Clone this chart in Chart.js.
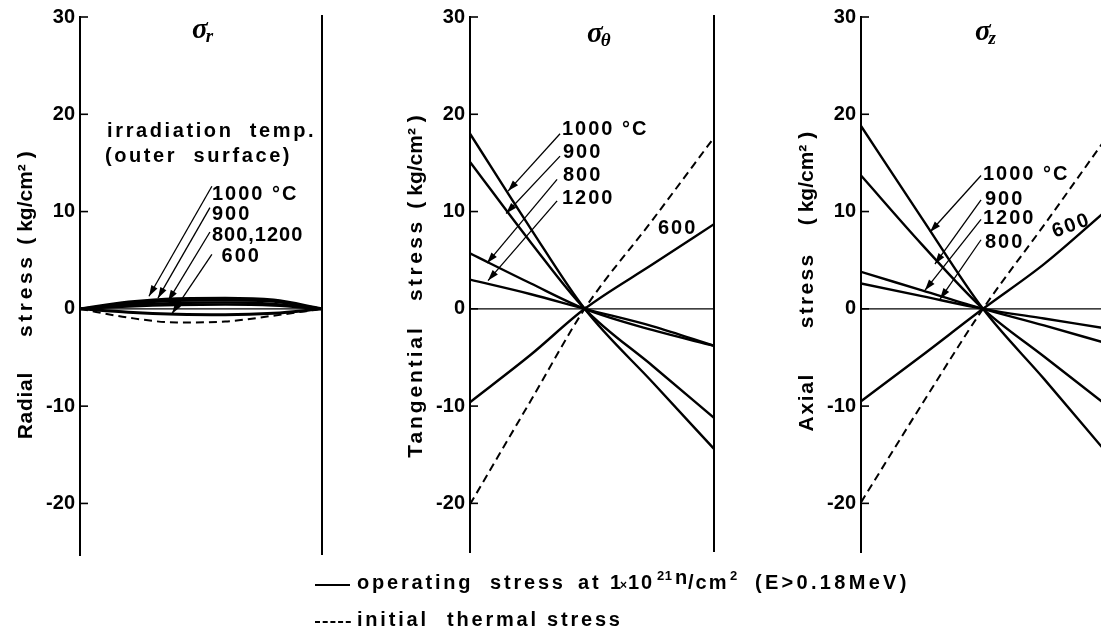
<!DOCTYPE html>
<html>
<head>
<meta charset="utf-8">
<script src="https://cdn.jsdelivr.net/npm/chart.js@4.4.0/dist/chart.umd.min.js"></script>
<style>
  html, body { margin: 0; padding: 0; background: #fff; }
  body { width: 1101px; height: 634px; overflow: hidden; position: relative; }
  canvas { position: absolute; top: 0; }
  #legend { position: absolute; left: 0; top: 560px; }
  #legend text { font-family: "Liberation Sans", Arial, sans-serif; font-weight: bold; font-size: 20px; letter-spacing: 2.8px; fill: #000; }
</style>
</head>
<body>
<canvas id="radial" width="340" height="634" style="left:0"></canvas>
<canvas id="tangential" width="350" height="634" style="left:380px"></canvas>
<canvas id="axial" width="400" height="634" style="left:760px"></canvas>
<svg id="legend" width="1101" height="74">
  <line x1="315" y1="25" x2="350" y2="25" stroke="#000" stroke-width="2"/>
  <line x1="315" y1="62" x2="351" y2="62" stroke="#000" stroke-width="2" stroke-dasharray="5 2.7"/>
  <text y="29"><tspan x="357">operating</tspan><tspan x="490">stress</tspan><tspan x="578">at</tspan><tspan x="610">1</tspan><tspan x="620" font-size="12">×</tspan><tspan x="628" letter-spacing="2">10</tspan><tspan x="657" dy="-9" font-size="13" letter-spacing="0.5">21</tspan><tspan x="675" dy="4">n</tspan><tspan x="688" dy="5" letter-spacing="2">/cm</tspan><tspan x="730" dy="-9" font-size="13">2</tspan><tspan x="755" dy="9" letter-spacing="3.3">(E&gt;0.18MeV)</tspan></text>
  <text y="66"><tspan x="357">initial</tspan><tspan x="447">thermal</tspan><tspan x="547">stress</tspan></text>
</svg>
<script>
const FONT = '"Liberation Sans", Arial, sans-serif';

// position across the wall, 0 = inner surface, 1 = outer surface
// radial stress (kg/cm2)
const radialX = [0, 0.2, 0.4, 0.6, 0.8, 1];
const radial1000 = [0, 0.7, 1.05, 1.1, 0.9, 0];
const radial900 = [0, 0.55, 0.85, 0.9, 0.75, 0];
const radial800 = [0, 0.4, 0.6, 0.65, 0.5, 0];
const radial1200 = [0, 0.25, 0.4, 0.45, 0.35, 0];
const radial600 = [0, -0.35, -0.55, -0.6, -0.45, 0];
const radialThermal = [0, -0.9, -1.4, -1.3, -0.7, 0];

// tangential stress (kg/cm2)
const tangX = [0, 0.25, 0.47, 0.75, 1];
const tang1000 = [18.0, 8.2, 0, -7.6, -14.4];
const tang900 = [15.1, 6.8, 0, -5.9, -11.2];
const tang800 = [5.7, 2.6, 0, -2.2, -3.8];
const tang1200 = [3.0, 1.5, 0, -1.8, -3.8];
const tang600 = [-9.6, -4.7, 0, 4.6, 8.7];
const tangThermal = [-20.1, -9.4, 0, 9.2, 17.6];

// axial stress (kg/cm2)
const axialX = [0, 0.25, 0.5, 0.75, 1];
const axial1000 = [18.8, 9.3, 0, -7.2, -14.6];
const axial900 = [13.7, 6.6, 0, -4.9, -9.8];
const axial1200 = [3.8, 1.9, 0, -1.7, -3.5];
const axial800 = [2.6, 1.3, 0, -1.0, -2.0];
const axial600 = [-9.5, -4.8, 0, 4.6, 10.0];
const axialThermal = [-19.9, -9.8, 0, 8.6, 17.4];

const yTicks = [-20, -10, 0, 10, 20, 30];

function pts(xs, ys) {
    return xs.map((x, i) => ({ x: x, y: ys[i] }));
}

function solid(xs, ys, width) {
    return {
        data: pts(xs, ys),
        borderColor: '#000',
        borderWidth: width || 2.4,
        pointRadius: 0,
        fill: false,
        cubicInterpolationMode: 'monotone'
    };
}

function dashed(xs, ys) {
    const d = solid(xs, ys, 2);
    d.borderDash = [8, 5];
    return d;
}

function arrow(ctx, x1, y1, x2, y2) {
    ctx.beginPath();
    ctx.moveTo(x1, y1);
    ctx.lineTo(x2, y2);
    ctx.stroke();
    const a = Math.atan2(y2 - y1, x2 - x1);
    const L = 11, W = 3.5;
    ctx.beginPath();
    ctx.moveTo(x2, y2);
    ctx.lineTo(x2 - L * Math.cos(a) + W * Math.sin(a), y2 - L * Math.sin(a) - W * Math.cos(a));
    ctx.lineTo(x2 - L * Math.cos(a) - W * Math.sin(a), y2 - L * Math.sin(a) + W * Math.cos(a));
    ctx.closePath();
    ctx.fill();
}

// text, marks and arrows that sit on top of each panel
function decor(cfg) {
    return {
        id: 'decor',
        beforeDatasetsDraw(chart) {
            const { ctx, chartArea: area, scales: { y } } = chart;
            ctx.save();
            ctx.strokeStyle = '#000';
            ctx.lineWidth = 1.2;
            const y0 = y.getPixelForValue(0);
            ctx.beginPath();
            ctx.moveTo(area.left, y0);
            ctx.lineTo(area.right, y0);
            ctx.stroke();
            // ticks point into the plot
            ctx.lineWidth = 1.6;
            yTicks.forEach(v => {
                const py = y.getPixelForValue(v);
                ctx.beginPath();
                ctx.moveTo(area.left, py);
                ctx.lineTo(area.left + 8, py);
                ctx.stroke();
            });
            // outer wall
            ctx.lineWidth = 2;
            ctx.beginPath();
            ctx.moveTo(area.right, area.top - 2);
            ctx.lineTo(area.right, area.bottom);
            ctx.stroke();
            ctx.restore();
        },
        afterDatasetsDraw(chart) {
            const { ctx, chartArea: area, scales: { x, y } } = chart;
            ctx.save();
            ctx.fillStyle = '#000';
            ctx.strokeStyle = '#000';
            ctx.textBaseline = 'alphabetic';
            ctx.textAlign = 'left';

            // panel symbol
            const sx = x.getPixelForValue(cfg.symbol[1]);
            const sy = y.getPixelForValue(cfg.symbol[2]);
            ctx.font = 'italic bold 29px "Liberation Serif", serif';
            ctx.fillText('σ', sx, sy);
            const sw = ctx.measureText('σ').width;
            ctx.font = 'italic bold 19px "Liberation Serif", serif';
            ctx.fillText(cfg.symbol[0], sx + sw - 2, sy + 4);

            // annotation labels
            cfg.labels.forEach(l => {
                ctx.font = 'bold 20px ' + FONT;
                ctx.letterSpacing = (l[3] || 2) + 'px';
                const px = x.getPixelForValue(l[1]);
                const py = y.getPixelForValue(l[2]);
                if (l[4]) {
                    ctx.save();
                    ctx.translate(px, py);
                    ctx.rotate(l[4]);
                    ctx.textAlign = 'center';
                    ctx.fillText(l[0], 0, 0);
                    ctx.restore();
                } else {
                    ctx.fillText(l[0], px, py);
                }
            });
            ctx.letterSpacing = '0px';

            // arrows from labels to curves
            ctx.lineWidth = 1.3;
            cfg.arrows.forEach(a => {
                arrow(ctx, x.getPixelForValue(a[0]), y.getPixelForValue(a[1]),
                    x.getPixelForValue(a[2]), y.getPixelForValue(a[3]));
            });

            // rotated axis title, word by word
            ctx.font = 'bold 21px ' + FONT;
            const bx = area.left - 48;
            cfg.yTitle.forEach(t => {
                const yb = y.getPixelForValue(t[1]);
                const yt = y.getPixelForValue(t[2]);
                ctx.letterSpacing = '0px';
                const w = ctx.measureText(t[0]).width;
                ctx.letterSpacing = Math.max(0, (yb - yt - w) / t[0].length) + 'px';
                ctx.save();
                ctx.translate(bx, yb);
                ctx.rotate(-Math.PI / 2);
                ctx.fillText(t[0], 0, 0);
                ctx.restore();
            });
            ctx.restore();
        }
    };
}

function makeChart(id, datasets, yMin, axisWidth, padding, cfg) {
    const ctx = document.getElementById(id).getContext('2d');
    return new Chart(ctx, {
        type: 'line',
        data: { datasets: datasets },
        options: {
            responsive: false,
            animation: false,
            events: [],
            layout: { padding: padding },
            plugins: { legend: { display: false }, tooltip: { enabled: false } },
            scales: {
                x: { type: 'linear', min: 0, max: 1, display: false },
                y: {
                    type: 'linear',
                    min: yMin,
                    max: 30,
                    afterBuildTicks: s => { s.ticks = yTicks.map(v => ({ value: v })); },
                    afterFit: s => { s.width = axisWidth; },
                    grid: { display: false, drawTicks: false },
                    border: { display: true, color: '#000', width: 2 },
                    ticks: { color: '#000', padding: 5, font: { family: FONT, size: 20, weight: 'bold' } }
                }
            }
        },
        plugins: [decor(cfg)]
    });
}

makeChart('radial', [
    solid(radialX, radial1000, 3),
    solid(radialX, radial900, 2.6),
    solid(radialX, radial800, 2.6),
    solid(radialX, radial1200, 2.6),
    solid(radialX, radial600, 3),
    dashed(radialX, radialThermal)
], -25.3, 80, { left: 0, top: 17, right: 18, bottom: 79 }, {
    symbol: ['r', 0.463, 27.8],
    labels: [
        ['irradiation  temp.', 0.112, 17.7, 2.6],
        ['(outer  surface)', 0.103, 15.1, 2.6],
        ['1000 °C', 0.545, 11.2],
        ['900', 0.545, 9.1],
        ['800,1200', 0.545, 7.0, 1],
        ['600', 0.585, 4.8]
    ],
    arrows: [
        [0.545, 12.6, 0.285, 1.3],
        [0.537, 10.4, 0.322, 1.1],
        [0.537, 7.9, 0.364, 0.8],
        [0.545, 5.6, 0.38, -0.5]
    ],
    yTitle: [['Radial', -13.4, -6.5], ['stress', -2.9, 5.7], ['( kg/cm² )', 6.6, 15.6]]
});

makeChart('tangential', [
    solid(tangX, tang1000),
    solid(tangX, tang900),
    solid(tangX, tang800),
    solid(tangX, tang1200),
    solid(tangX, tang600),
    dashed(tangX, tangThermal)
], -25, 90, { left: 0, top: 15, right: 16, bottom: 82 }, {
    symbol: ['θ', 0.48, 27.4],
    labels: [
        ['1000 °C', 0.377, 17.9],
        ['900', 0.381, 15.5],
        ['800', 0.381, 13.1],
        ['1200', 0.377, 10.8],
        ['600', 0.77, 7.7]
    ],
    arrows: [
        [0.369, 18.0, 0.156, 12.1],
        [0.369, 15.7, 0.148, 9.8],
        [0.357, 13.3, 0.07, 4.7],
        [0.357, 11.1, 0.074, 2.9]
    ],
    yTitle: [['Tangential', -15.3, -1.7], ['stress', 0.8, 9.3], ['( kg/cm² )', 10.3, 19.8]]
});

makeChart('axial', [
    solid(axialX, axial1000),
    solid(axialX, axial900),
    solid(axialX, axial1200),
    solid(axialX, axial800),
    solid(axialX, axial600),
    dashed(axialX, axialThermal)
], -25, 101, { left: 0, top: 13, right: 55, bottom: 82 }, {
    symbol: ['z', 0.467, 27.6],
    labels: [
        ['1000 °C', 0.5, 13.2],
        ['900', 0.508, 10.7],
        ['1200', 0.5, 8.7],
        ['800', 0.508, 6.3],
        ['600', 0.87, 8.0, 2, -0.35]
    ],
    arrows: [
        [0.492, 13.7, 0.283, 7.9],
        [0.492, 11.2, 0.303, 4.6],
        [0.492, 9.2, 0.262, 1.9],
        [0.492, 7.1, 0.324, 1.0]
    ],
    yTitle: [['Axial', -12.6, -6.6], ['stress', -2.0, 5.8], ['( kg/cm² )', 8.6, 18.1]]
});
</script>
</body>
</html>
